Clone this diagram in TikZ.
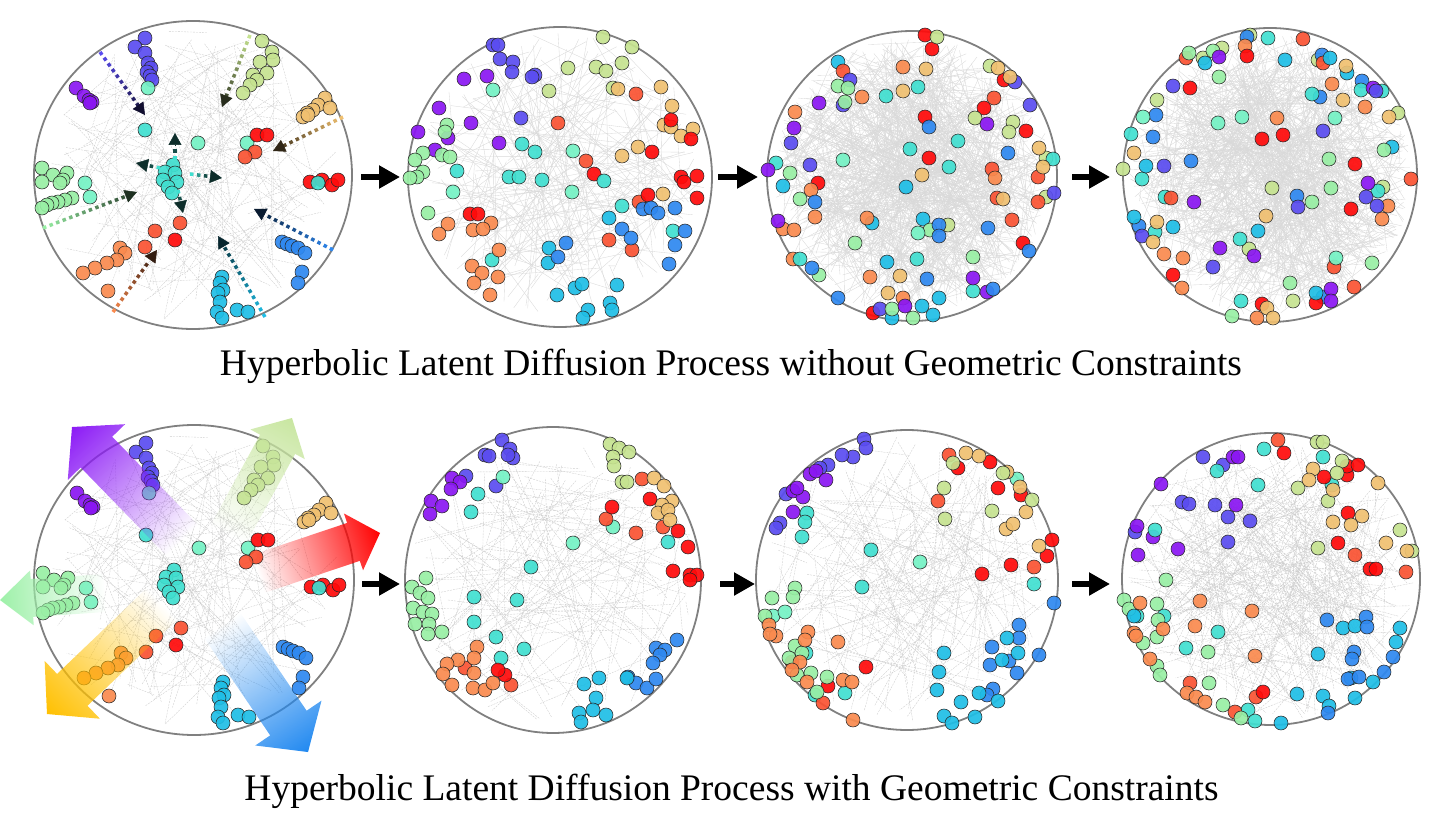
\documentclass[tikz,border=0pt]{standalone}
\usepackage{fontspec}
\setmainfont{Liberation Serif}
\usetikzlibrary{arrows.meta,calc,shapes.geometric,fadings}

\definecolor{cP}{HTML}{8A16F2}
\definecolor{cV}{HTML}{5A4CF0}
\definecolor{cB}{HTML}{2E88F0}
\definecolor{cS}{HTML}{1EBEE6}
\definecolor{cT}{HTML}{40DFD0}
\definecolor{cM}{HTML}{74F2C4}
\definecolor{cG}{HTML}{98EFA4}
\definecolor{cY}{HTML}{C6E390}
\definecolor{cL}{HTML}{F0C070}
\definecolor{cO}{HTML}{FA8A4E}
\definecolor{cQ}{HTML}{FA5232}
\definecolor{cR}{HTML}{FF0A0A}
\definecolor{aP}{HTML}{8B1AF5}
\definecolor{aY}{HTML}{C8E6A0}
\definecolor{aR}{HTML}{FF0000}
\definecolor{aG}{HTML}{9DF0A8}
\definecolor{aO}{HTML}{FFC000}
\definecolor{aB}{HTML}{2088F0}

\tikzfading[name=afade, left color=transparent!100, middle color=transparent!50, right color=transparent!0]

\tikzset{
  dotst/.style={draw=black!85, line width=0.55pt, fill opacity=0.92},
  sedge/.style={draw=gray!30, line width=0.35pt},
  dedge/.style={draw=gray!40, line width=0.35pt, dash pattern=on 2pt off 1pt},
  panel/.style={ellipse, draw=black!50, line width=1.8pt, inner sep=0pt, outer sep=0pt},
  flow/.style={line width=6pt, -{Triangle[length=21pt,width=22pt]}},
  caption/.style={font=\fontsize{37.5}{42}\selectfont, anchor=base, inner sep=0pt}
}

\newcommand\pdots[2]{\foreach \x/\y in {#2}{\filldraw[dotst,fill=#1] (\x,\y) circle (7pt);}}

\newcommand\redges[6]{%
  \pgfmathsetseed{#5}%
  \foreach \i in {1,...,#4}{%
    \pgfmathsetmacro\eA{360*rnd}\pgfmathsetmacro\eR{#3*sqrt(rnd)}%
    \pgfmathsetmacro\eB{360*rnd}\pgfmathsetmacro\eS{#3*sqrt(rnd)}%
    \draw[#6] ([shift={(\eA:\eR)}]#1,#2) -- ([shift={(\eB:\eS)}]#1,#2);}}

\newcommand\darr[5]{%
  \pgfmathsetmacro\dL{veclen(#3-#1,#4-#2)}%
  \pgfmathtruncatemacro\nD{(\dL-14)/7}%
  \pgfmathsetmacro\dF{1-12/\dL}%
  \foreach \j in {0,...,\nD}{%
    \pgfmathsetmacro\pa{\j*7/\dL}\pgfmathsetmacro\pb{(\j*7+3.5)/\dL}%
    \pgfmathtruncatemacro\mx{100-65*\j/max(\nD,1)}%
    \draw[line width=3.5pt, draw=#5!\mx!black] ($(#1,#2)!\pa!(#3,#4)$) -- ($(#1,#2)!\pb!(#3,#4)$);}%
  \draw[draw=#5!20!black, line width=0.5pt, -{Triangle[length=12pt,width=13pt,fill=#5!20!black]}] ($(#1,#2)!\dF!(#3,#4)$) -- (#3,#4);%
}

\newcommand\fatarrow[8]{%
  \pgfmathsetmacro\fdx{#3-#1}\pgfmathsetmacro\fdy{#4-#2}%
  \pgfmathsetmacro\fL{veclen(\fdx,\fdy)}%
  \pgfmathsetmacro\fA{atan2(\fdy,\fdx)}%
  \pgfmathsetmacro\fB{\fL-#7}\pgfmathsetmacro\fw{#5/2}\pgfmathsetmacro\fh{#6/2}%
  \begin{scope}[transform canvas={shift={(#1,#2)},rotate=-\fA}]
    \fill[#8, path fading=afade] (0,-\fw) -- (\fB,-\fw) -- (\fB,-\fh) -- (\fL,0) -- (\fB,\fh) -- (\fB,\fw) -- (0,\fw) -- cycle;
  \end{scope}}

\newcommand\panelone{%
  \redges{193}{175}{148}{160}{11}{dedge}
  \pdots{cV}{145/38,135/47,145/53,148/63,151/68,147/72,150/76,152/80}
  \pdots{cM}{148/88,198/143,247/143,85/183,90/197}
  \pdots{cP}{76/88,84/96,89/100,92/102,90/103}
  \pdots{cT}{145/130,173/165,165/172,175/173,163/180,177/182,168/187,172/193}
  \pdots{cY}{262/41,272/52,273/60,260/62,253/75,267/73,257/80,250/85,243/93}
  \pdots{cL}{325/98,318/105,330/108,313/110,307/113,303/117,308/115}
  \pdots{cR}{257/135,267/135,310/182,322/180,332/185,338/180,175/240}
  \pdots{cT}{318/183}
  \pdots{cQ}{255/152,245/157,180/223,155/231,145/247}
  \pdots{cG}{42/168,53/175,67/173,42/182,63/180,60/183,72/198,65/200,58/202,52/203,47/205,42/208}
  \pdots{cO}{120/248,125/253,117/260,107/263,95/268,83/273,108/291}
  \pdots{cB}{282/242,287/244,292/246,298/248,305/253,302/272,298/283}
  \pdots{cS}{222/277,220/283,223/290,218/293,220/302,217/312,222/318,237/310,248/312}
}

\begin{document}
\begin{tikzpicture}[x=1pt,y=-1pt]
\useasboundingbox (0,0) rectangle (1449,818);

% panels (outlines)
\node[panel, minimum width=318pt, minimum height=308pt] (t1) at (193,175) {};
\node[panel, minimum width=304pt, minimum height=300pt] (t2) at (560,177) {};
\node[panel, minimum width=290pt, minimum height=290pt] (t3) at (912,176) {};
\node[panel, minimum width=294pt, minimum height=294pt] (t4) at (1270,175) {};
\node[panel, minimum width=320pt, minimum height=310pt] (b1) at (194,580) {};
\node[panel, minimum width=296pt, minimum height=306pt] (b2) at (553,580) {};
\node[panel, minimum width=302pt, minimum height=300pt] (b3) at (907,580) {};
\node[panel, minimum width=298pt, minimum height=292pt] (b4) at (1271,579) {};

% ---------- top panel 1
\panelone
\darr{100}{52}{145}{115}{cV}
\darr{250}{35}{222}{107}{cY}
\darr{343}{117}{273}{151}{cL}
\darr{333}{250}{254}{209}{cB}
\darr{265}{317}{218}{236}{cS}
\darr{113}{312}{157}{250}{cO}
\darr{43}{228}{137}{192}{cG}
\darr{175}{160}{175}{133}{cT}
\darr{160}{168}{136}{163}{cT}
\darr{190}{174}{222}{178}{cT}
\darr{178}{190}{183}{213}{cT}

% ---------- top panel 2
\redges{560}{177}{145}{220}{22}{sedge}
\pdots{cV}{493/45,498/45,500/59,513/62,512/72,535/75,532/77,521/118}
\pdots{cP}{464/79,487/76,439/108,471/123,418/132,448/138,435/150,499/143}
\pdots{cM}{493/90,573/151,572/192,453/192}
\pdots{cY}{603/37,632/47,622/63,568/68,596/67,606/71,613/88,549/91}
\pdots{cL}{618/89,661/87,672/106,664/125,671/127,681/136,693/129,638/147,622/156,663/194}
\pdots{cQ}{636/94,558/123,586/161,609/240,632/250,639/202}
\pdots{cR}{671/120,691/139,652/152,594/174,681/177,684/182,697/176,697/198,648/195,470/214,478/214}
\pdots{cG}{447/125,445/132,423/153,415/160,442/155,450/157,423/172,417/177,410/178,428/213}
\pdots{cT}{457/171,509/177,519/177,542/180,522/144,535/152,604/181,622/206,673/231,492/260}
\pdots{cO}{448/224,439/234,491/223,473/230,483/229,499/250,472/266,482/273,498/277,474/283,490/295}
\pdots{cS}{609/218,549/248,548/263,557/295,575/288,582/284,617/285,610/303,612/310,588/310,583/318}
\pdots{cB}{643/209,651/208,658/213,675/208,622/229,631/238,685/231,675/245,669/264,566/243,558/257}

% ---------- top panel 3
\redges{912}{176}{140}{700}{33}{sedge}
\pdots{cR}{925/35,932/49,818/183,925/117,929/158,873/313,1023/243,1026/131,984/108,1004/80}
\pdots{cY}{937/37,1046/158,1046/197,1013/122,1009/132,975/118,990/66,948/225}
\pdots{cS}{838/62,783/186,887/262,906/187,872/223,923/219,922/306,939/298,892/318,933/315}
\pdots{cQ}{843/71,992/169,997/198,1012/220,1038/202,1038/177,994/98}
\pdots{cV}{850/80,843/105,791/143,810/165,880/309,1030/105,1054/193,1015/82}
\pdots{cG}{838/86,848/88,845/102,790/173,800/199,819/275,855/243,930/230,892/309,913/318,973/257}
\pdots{cO}{862/97,903/67,795/112,811/190,815/217,783/229,794/230,793/259,867/218,870/277,903/298,995/178}
\pdots{cT}{886/96,918/87,776/163,800/259,910/149,949/167,958/141,917/259,973/291,1053/159}
\pdots{cL}{926/69,903/91,922/175,900/276,888/293,1003/199,1043/167,1039/148,998/68,1010/77}
\pdots{cP}{819/103,794/128,768/170,778/221,905/306,973/278,987/292,987/124}
\pdots{cB}{815/202,812/268,838/298,929/127,939/225,939/236,927/279,993/289,988/228,1029/251,1008/153}
\pdots{cM}{843/160,918/233}

% ---------- top panel 4
\redges{1270}{175}{142}{700}{44}{sedge}
\pdots{cY}{1250/35,1203/58,1222/48,1157/100,1123/169,1318/60,1398/113,1383/187,1272/188,1249/249,1293/301}
\pdots{cB}{1247/37,1156/115,1153/137,1191/161,1322/55,1320/97,1362/81,1297/196,1139/226,1323/297}
\pdots{cO}{1245/46,1277/118,1332/84,1365/107,1388/206,1382/219,1164/254,1183/258,1182/288,1257/318}
\pdots{cR}{1247/56,1190/88,1262/139,1283/135,1355/164,1351/209,1173/275,1316/303,1262/304}
\pdots{cT}{1268/38,1131/134,1142/179,1312/94,1361/90,1382/91,1378/191,1240/239,1165/197,1155/232,1241/301}
\pdots{cQ}{1303/39,1186/58,1323/63,1411/179,1171/198,1334/267,1354/287}
\pdots{cS}{1285/60,1205/63,1330/58,1347/73,1146/166,1392/147,1258/231,1173/227,1134/217,1316/293}
\pdots{cG}{1189/53,1213/51,1219/77,1384/150,1329/159,1331/188,1312/202,1290/283,1372/263,1232/316}
\pdots{cP}{1219/57,1373/88,1368/183,1254/256,1220/248,1194/202,1331/289,1331/301}
\pdots{cV}{1173/86,1323/131,1376/91,1366/197,1377/206,1298/207,1213/267,1164/166,1142/236}
\pdots{cM}{1143/117,1218/123,1242/117,1335/118,1336/258}
\pdots{cL}{1134/153,1346/66,1343/100,1389/117,1266/216,1157/222,1153/242,1267/308,1273/318}

% ---------- bottom panel 1
\begin{scope}[shift={(1,405)}]
\panelone
\end{scope}
\fatarrow{182}{540}{72}{427}{44}{80}{35}{aP}
\fatarrow{228}{535}{292}{418}{40}{62}{30}{aY}
\fatarrow{258}{574}{380}{533}{40}{60}{28}{aR}
\fatarrow{105}{593}{0}{600}{38}{55}{32}{aG}
\fatarrow{162}{604}{47}{714}{44}{80}{35}{aO}
\fatarrow{222}{625}{308}{752}{44}{80}{35}{aB}

% ---------- bottom panel 2
\redges{553}{580}{145}{140}{55}{dedge}
\pdots{cV}{502/440,510/449,513/458,508/455,485/455,489/456,496/486,466/476}
\pdots{cP}{452/478,460/482,451/489,431/501,442/506,430/514}
\pdots{cM}{503/477,573/543,613/527}
\pdots{cT}{478/494,471/512,531/567,474/597,517/600,474/622,496/637,524/649,501/658,668/542}
\pdots{cY}{610/444,619/448,629/452,613/457,614/466,622/482,627/482}
\pdots{cQ}{642/479,606/519,636/533,663/527,511/685,465/668}
\pdots{cL}{654/478,664/486,672/501,662/505,658/513,668/510,670/520}
\pdots{cR}{650/499,612/507,678/531,688/547,673/571,690/575,697/575,690/580,505/675,498/670}
\pdots{cG}{426/578,412/587,420/593,428/598,413/608,423/612,432/614,415/624,429/624,442/632,428/634}
\pdots{cO}{477/647,474/658,458/660,447/664,443/674,474/673,452/685,473/688,485/690,493/683}
\pdots{cB}{677/640,656/648,665/650,660/655,653/663,628/677,636/683,647/688,656/679}
\pdots{cS}{584/684,599/678,596/698,593/710,579/713,581/722,606/715,627/678}

% ---------- bottom panel 3
\redges{907}{580}{145}{180}{66}{dedge}
\pdots{cV}{864/439,866/448,853/457,842/455,828/465,820/468,780/523,776/528,786/494}
\pdots{cP}{810/474,816/471,826/480,793/491,803/497,797/488,793/512}
\pdots{cT}{807/513,805/522,802/537,871/550,862/587,1034/584,806/653,815/695,845/693}
\pdots{cM}{920/562,1017/479,773/616,785/612}
\pdots{cR}{982/574,1011/565,1052/540,1047/556,998/488,1021/495,990/462,958/468,828/686,866/667,792/662}
\pdots{cQ}{949/455,938/501,1034/567,823/703}
\pdots{cL}{966/453,979/456,1007/472,1026/512,1006/529,1013/524,1039/546,1020/487}
\pdots{cY}{953/463,1003/473,944/488,945/519,992/511,1032/500}
\pdots{cB}{1054/603,1019/625,1019/638,1039/655,992/647,990/665,1009/661,1017/673,993/689,987/695}
\pdots{cS}{1007/638,1018/653,1002/660,944/653,939/672,937/690,961/702,944/716,952/723,975/717,979/693,998/701}
\pdots{cG}{772/598,795/588,793/597,765/616,795/646,802/653,789/658,797/675,811/673,827/677,817/692}
\pdots{cO}{769/625,776/636,770/634,808/632,805/640,800/662,792/670,807/682,838/642,843/680,852/682,853/720}

% ---------- bottom panel 4
\redges{1271}{579}{143}{320}{77}{dedge}
\pdots{cV}{1203/457,1223/465,1182/502,1189/504,1215/505,1228/517,1250/521,1228/542,1135/532}
\pdots{cP}{1233/457,1238/457,1161/484,1236/505,1137/526,1153/537,1178/549,1138/555}
\pdots{cT}{1217/471,1264/449,1258/485,1155/530,1323/457,1332/485,1137/616,1164/616,1218/632,1186/648,1248/710,1255/721}
\pdots{cQ}{1278/440,1355/555,1406/572,1190/683,1256/697,1235/712}
\pdots{cR}{1284/453,1324/477,1347/475,1347/466,1358/465,1348/513,1338/543,1370/569,1376/569,1263/692}
\pdots{cY}{1317/442,1323/442,1298/488,1342/461,1337/473,1328/501,1400/530,1318/548,1412/551}
\pdots{cL}{1313/469,1309/480,1333/490,1378/483,1333/522,1351/525,1362/516,1386/543,1407/551}
\pdots{cG}{1166/580,1124/600,1129/609,1157/604,1158/620,1157/637,1143/643,1157/666,1160/675,1208/652,1209/683,1223/705,1241/718}
\pdots{cO}{1140/603,1200/601,1252/611,1163/629,1195/626,1134/633,1136/636,1255/656,1150/659,1187/693,1196/697,1205/702}
\pdots{cS}{1134/616,1343/628,1355/626,1400/628,1396/642,1318/654,1351/678,1373/682,1355/698,1297/694,1323/696,1329/706,1281/723}
\pdots{cB}{1327/620,1366/617,1367/627,1354/652,1352/659,1393/657,1384/672,1348/679,1359/677,1328/713}

% ---------- flow arrows between panels
\draw[flow] ([xshift=9pt,yshift=-2pt]t1.east) -- ([xshift=-8pt,yshift=-2pt]t1.east -| t2.west);
\draw[flow] ([xshift=6pt]t2.east) -- ([xshift=-9pt]t2.east -| t3.west);
\draw[flow] ([xshift=15pt,yshift=-1pt]t3.east) -- ([xshift=-13pt,yshift=-1pt]t3.east -| t4.west);
\draw[flow] ([xshift=8pt,yshift=-4pt]b1.east) -- ([xshift=-5pt,yshift=-4pt]b1.east -| b2.west);
\draw[flow] ([xshift=19pt,yshift=-4pt]b2.east) -- ([xshift=-1pt,yshift=-4pt]b2.east -| b3.west);
\draw[flow] ([xshift=14pt,yshift=-4pt]b3.east) -- ([xshift=-12pt,yshift=-4pt]b3.east -| b4.west);

% ---------- captions
\node[caption] (cap1) at (731,375) {Hyperbolic Latent Diffusion Process without Geometric Constraints};
\node[caption] (cap2) at (731.5,800) {Hyperbolic Latent Diffusion Process with Geometric Constraints};
\end{tikzpicture}
\end{document}
